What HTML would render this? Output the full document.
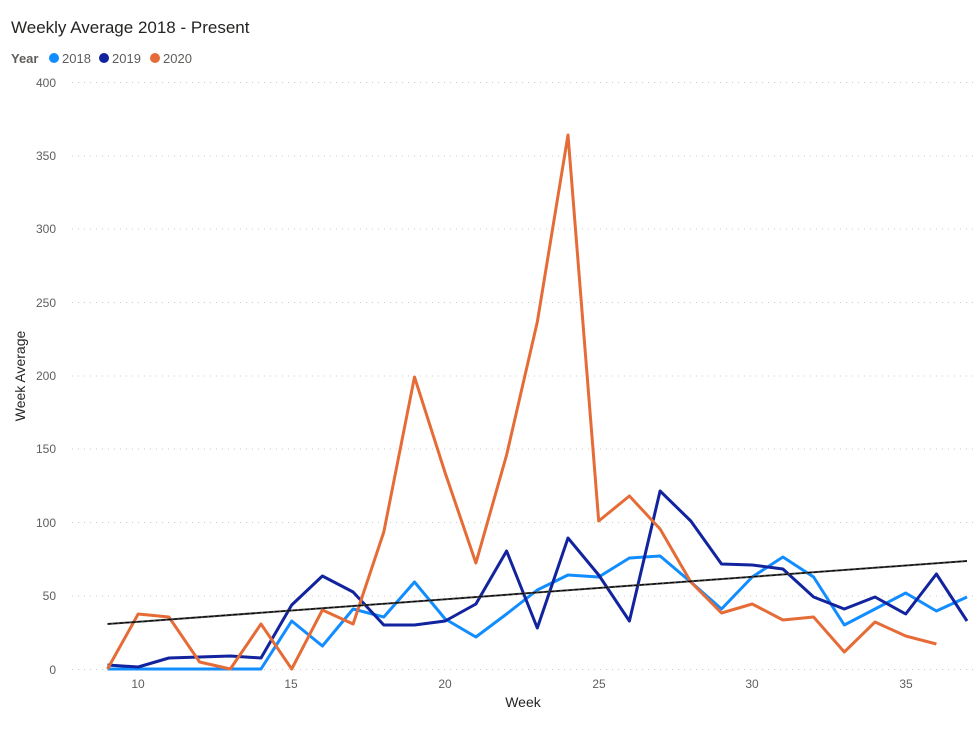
<!DOCTYPE html>
<html><head><meta charset="utf-8"><style>
body{margin:0;background:#fff;font-family:"Liberation Sans","DejaVu Sans",sans-serif}
</style></head><body>
<svg width="980" height="727" xmlns="http://www.w3.org/2000/svg" font-family="Liberation Sans, DejaVu Sans, sans-serif">
<text x="11" y="33" font-size="17" fill="#252423">Weekly Average 2018 - Present</text>
<text x="11" y="63" font-size="13" font-weight="bold" fill="#605e5c">Year</text>
<circle cx="54" cy="58" r="5" fill="#118dff"/><text x="62" y="63" font-size="13" fill="#605e5c">2018</text>
<circle cx="104" cy="58" r="5" fill="#12239e"/><text x="112" y="63" font-size="13" fill="#605e5c">2019</text>
<circle cx="155" cy="58" r="5" fill="#e66c37"/><text x="163" y="63" font-size="13" fill="#605e5c">2020</text>
<g stroke="#c8c8c8" stroke-dasharray="1,5" stroke-width="1">
<line x1="72" x2="975" y1="82.5" y2="82.5"/><line x1="72" x2="975" y1="156" y2="156"/><line x1="72" x2="975" y1="229" y2="229"/><line x1="72" x2="975" y1="302.5" y2="302.5"/><line x1="72" x2="975" y1="376" y2="376"/><line x1="72" x2="975" y1="449" y2="449"/><line x1="72" x2="975" y1="522.5" y2="522.5"/><line x1="72" x2="975" y1="596" y2="596"/><line x1="72" x2="975" y1="669.5" y2="669.5"/>
</g>
<g font-size="12" fill="#605e5c" text-anchor="end">
<text x="56" y="87">400</text><text x="56" y="160">350</text><text x="56" y="233">300</text><text x="56" y="307">250</text><text x="56" y="380">200</text><text x="56" y="453">150</text><text x="56" y="527">100</text><text x="56" y="600">50</text><text x="56" y="674">0</text>
</g>
<g font-size="12" fill="#605e5c" text-anchor="middle">
<text x="138" y="688">10</text><text x="291" y="688">15</text><text x="445" y="688">20</text><text x="599" y="688">25</text><text x="752" y="688">30</text><text x="906" y="688">35</text>
</g>
<text x="523" y="707" font-size="14" fill="#252423" text-anchor="middle">Week</text>
<text transform="translate(25,376) rotate(-90)" font-size="14" fill="#252423" text-anchor="middle">Week Average</text>
<g fill="none" stroke-width="3" stroke-linejoin="round">
<polyline stroke="#118dff" points="107.5,669 138.2,669 168.9,669 199.6,669 230.3,669 261,669 291.7,621 322.4,646 353.1,609 383.8,617 414.5,582 445.2,619 475.9,637 506.6,614 537.3,590 568,575 598.7,577 629.4,558 660.1,556 690.8,582 721.5,609 752.2,577 782.9,557 813.6,577 844.3,625 875,609 905.7,593 936.4,611 967,597"/>
<polyline stroke="#12239e" points="107.5,665 138.2,667 168.9,658 199.6,657 230.3,656 261,658 291.7,605 322.4,576 353.1,592 383.8,625 414.5,625 445.2,621 475.9,604 506.6,551 537.3,628 568,538 598.7,575 629.4,621 660.1,491 690.8,521 721.5,564 752.2,565 782.9,569 813.6,597 844.3,609 875,597 905.7,614 936.4,574 967,621"/>
<polyline stroke="#e66c37" points="107.5,669 138.2,614 168.9,617 199.6,662 230.3,669 261,624 291.7,669 322.4,610 353.1,624 383.8,532 414.5,377 445.2,473 475.9,563 506.6,455 537.3,322 568,135 598.7,521 629.4,496 660.1,529 690.8,582 721.5,613 752.2,604 782.9,620 813.6,617 844.3,652 875,622 905.7,636 936.4,644"/>
</g>
<line x1="107.5" y1="624" x2="967" y2="561" stroke="#444" stroke-width="2"/>
<line x1="107.5" y1="624" x2="967" y2="561" stroke="#000" stroke-width="1" stroke-dasharray="4,2"/>
</svg>
</body></html>
